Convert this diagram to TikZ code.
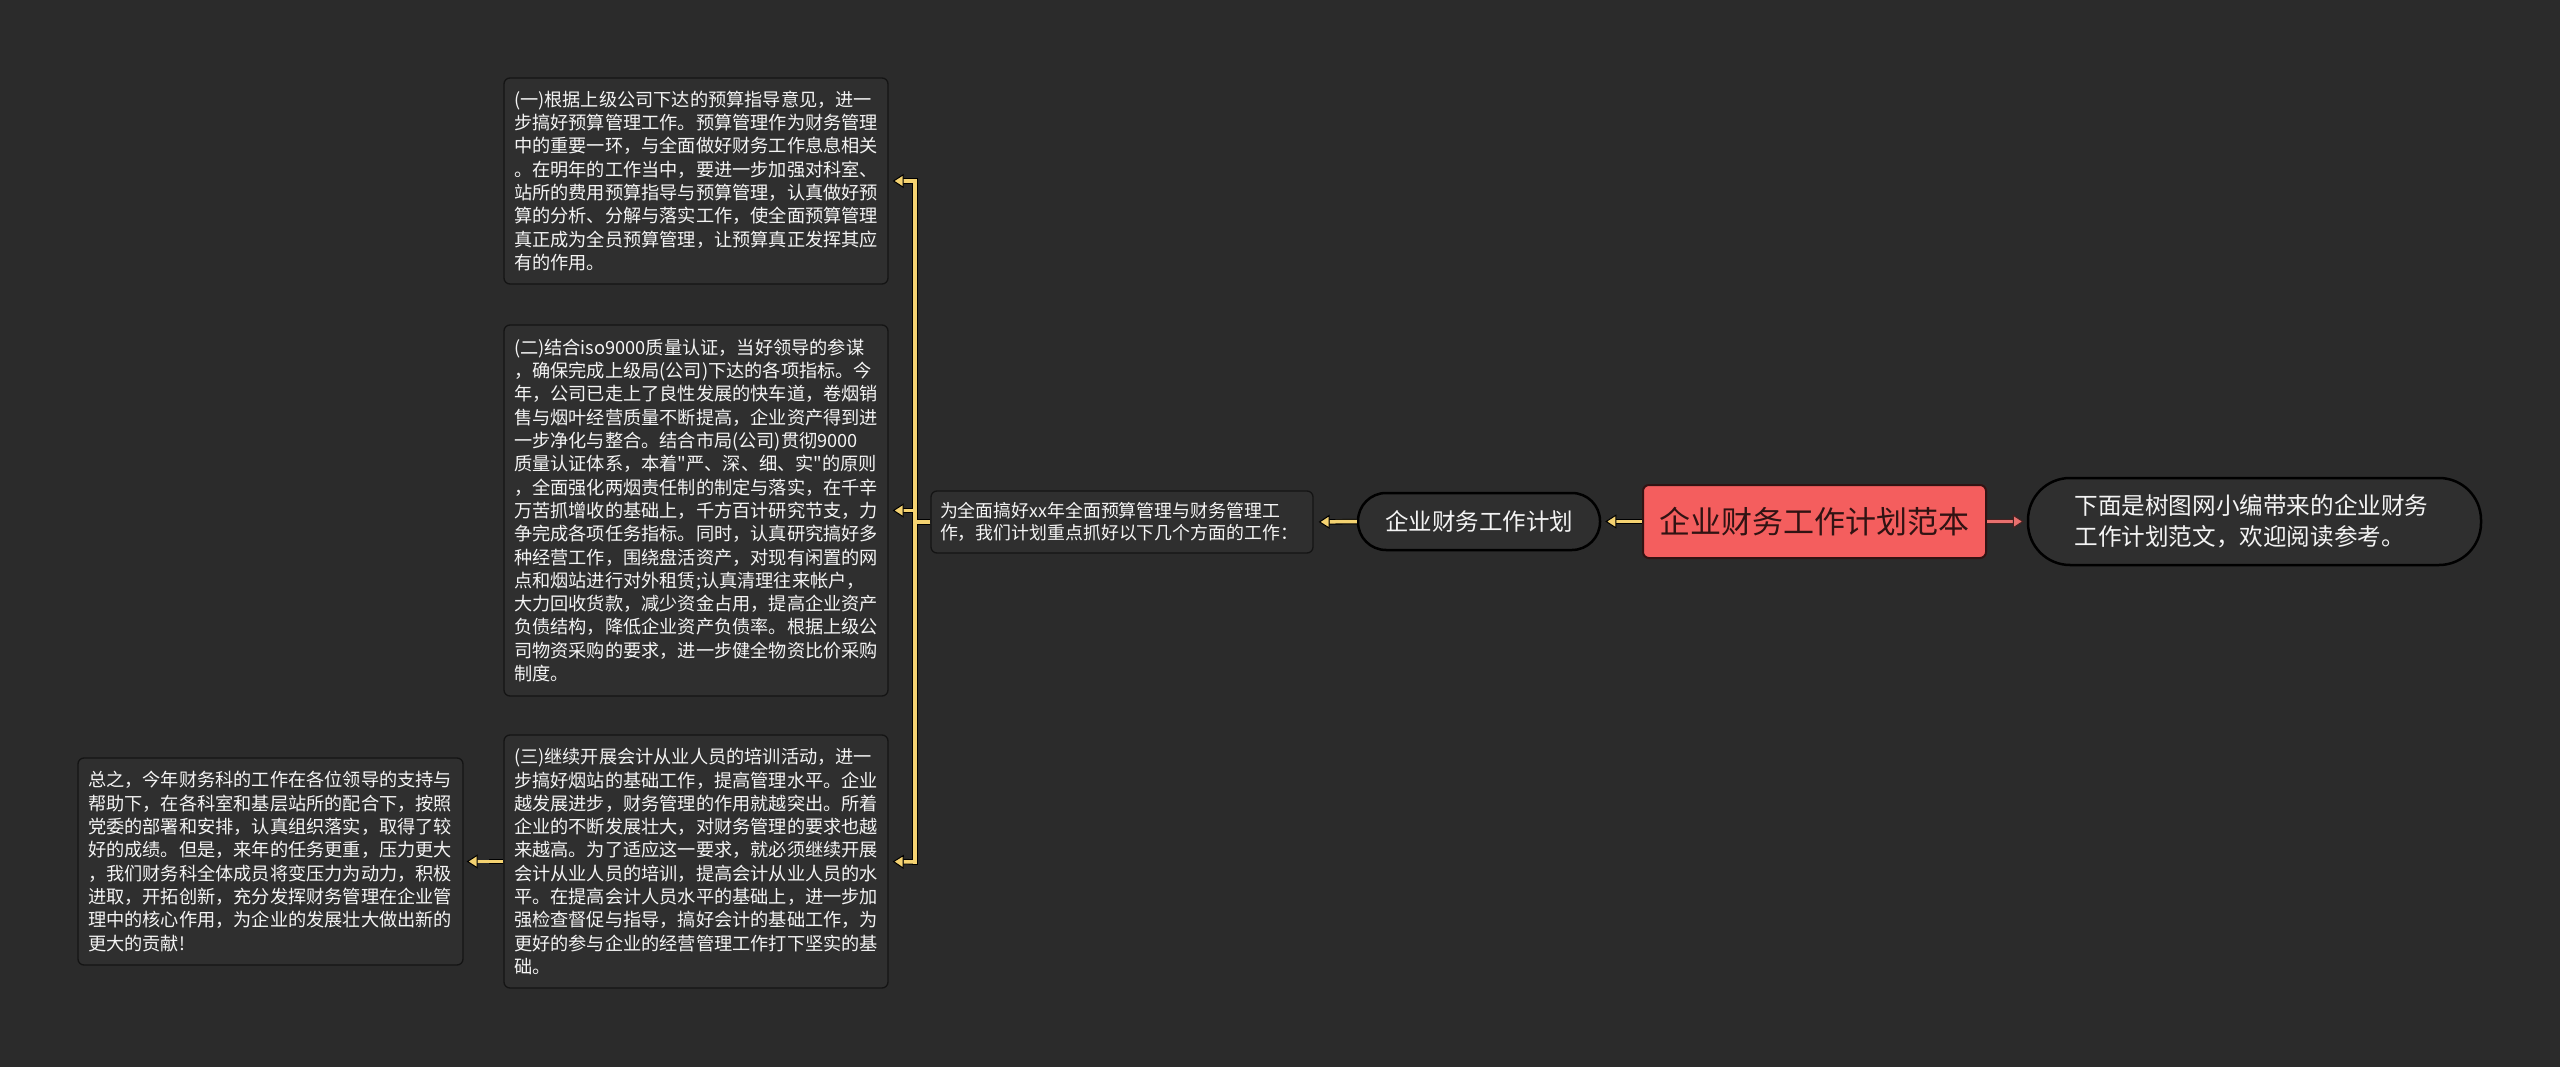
\documentclass[tikz,border=0pt]{standalone}
\usepackage{fontspec}
\newfontfamily\cjk{Noto Sans CJK SC}
\usetikzlibrary{arrows.meta}
\definecolor{bgc}{HTML}{2B2B2B}
\definecolor{boxc}{HTML}{2F2F2F}
\definecolor{edgec}{HTML}{141414}
\definecolor{ylw}{HTML}{F4D271}
\definecolor{redl}{HTML}{E8706E}
\definecolor{rootc}{HTML}{F45E5E}
\definecolor{txtc}{HTML}{F4F4F4}
\tikzset{
  txtbox/.style={draw=edgec, line width=1.3pt, fill=boxc, rounded corners=6pt,
    text=txtc, align=left, text width=364pt, inner xsep=10pt, inner ysep=4pt,
    font=\cjk\fontsize{18.2}{23.3}\selectfont},
  pill/.style={draw=black, line width=2.5pt, fill=boxc, rounded corners=28pt,
    text=txtc, inner sep=0pt},
  rootbox/.style={draw=black!80!rootc, line width=2pt, fill=rootc, rounded corners=6pt,
    text=black!80!rootc, inner sep=0pt, minimum width=343pt, minimum height=73pt,
    font=\cjk\fontsize{31}{36}\selectfont},
  under/.style={draw=black, line width=5.5pt},
  ylink/.style={draw=ylw, line width=3.5pt},
  yarr/.style={ylink, -{Triangle[length=11pt,width=14pt,color=black,fill=ylw,line width=1pt]}},
  rarr/.style={draw=redl, line width=3.5pt, -{Triangle[length=11pt,width=14pt,color=black!70!redl,fill=redl,line width=1pt]}},
}
\begin{document}
\begin{tikzpicture}[x=1pt,y=-1pt]
\fill[bgc] (0,0) rectangle (2560,1067);
\useasboundingbox (0,0) rectangle (2560,1067);

\node[rootbox] (root) at (1814.5,521.5) {企业财务工作计划范本};

\node[pill, rounded corners=42pt, minimum width=453pt, minimum height=87pt, text width=360pt, align=left,
  font=\cjk\fontsize{23.6}{31}\selectfont] (intro2) at (2254.5,521.5)
  {下面是树图网小编带来的企业财务\\工作计划范文，欢迎阅读参考。};

\node[pill, minimum width=242pt, minimum height=57pt,
  font=\cjk\fontsize{23.5}{28}\selectfont] (plan) at (1479,521.5) {企业财务工作计划};

\node[txtbox, minimum height=62pt, text width=364pt, inner xsep=9pt,
  font=\cjk\fontsize{17.9}{22.5}\selectfont] (intro) at (1122,522)
  {为全面搞好xx年全面预算管理与财务管理工\\作，我们计划重点抓好以下几个方面的工作：};

\node[txtbox, minimum height=206pt] (b1) at (696,181) {(一)根据上级公司下达的预算指导意见，进一\\
步搞好预算管理工作。预算管理作为财务管理\\
中的重要一环，与全面做好财务工作息息相关\\
。在明年的工作当中，要进一步加强对科室、\\
站所的费用预算指导与预算管理，认真做好预\\
算的分析、分解与落实工作，使全面预算管理\\
真正成为全员预算管理，让预算真正发挥其应\\
有的作用。};

\node[txtbox, minimum height=371pt] (b2) at (696,510.5) {(二)结合iso9000质量认证，当好领导的参谋\\
，确保完成上级局(公司)下达的各项指标。今\\
年，公司已走上了良性发展的快车道，卷烟销\\
售与烟叶经营质量不断提高，企业资产得到进\\
一步净化与整合。结合市局(公司)贯彻9000\\
质量认证体系，本着"严、深、细、实"的原则\\
，全面强化两烟责任制的制定与落实，在千辛\\
万苦抓增收的基础上，千方百计研究节支，力\\
争完成各项任务指标。同时，认真研究搞好多\\
种经营工作，围绕盘活资产，对现有闲置的网\\
点和烟站进行对外租赁;认真清理往来帐户，\\
大力回收货款，减少资金占用，提高企业资产\\
负债结构，降低企业资产负债率。根据上级公\\
司物资采购的要求，进一步健全物资比价采购\\
制度。};

\node[txtbox, minimum height=253pt] (b3) at (696,861.5) {(三)继续开展会计从业人员的培训活动，进一\\
步搞好烟站的基础工作，提高管理水平。企业\\
越发展进步，财务管理的作用就越突出。所着\\
企业的不断发展壮大，对财务管理的要求也越\\
来越高。为了适应这一要求，就必须继续开展\\
会计从业人员的培训，提高会计从业人员的水\\
平。在提高会计人员水平的基础上，进一步加\\
强检查督促与指导，搞好会计的基础工作，为\\
更好的参与企业的经营管理工作打下坚实的基\\
础。};

\node[txtbox, minimum height=207pt, text width=365pt] (b4) at (270.5,861.5) {总之，今年财务科的工作在各位领导的支持与\\
帮助下，在各科室和基层站所的配合下，按照\\
党委的部署和安排，认真组织落实，取得了较\\
好的成绩。但是，来年的任务更重，压力更大\\
，我们财务科全体成员将变压力为动力，积极\\
进取，开拓创新，充分发挥财务管理在企业管\\
理中的核心作用，为企业的发展壮大做出新的\\
更大的贡献!};

\coordinate (bus) at (915,522);
\coordinate (bustop) at (915,181);
\coordinate (busbot) at (915,862);

% underlayers (dark outline)
\draw[under] (root.west) -- ([xshift=12pt]plan.east);
\draw[under] (plan.west) -- ([xshift=14pt]intro.east);
\draw[under] (intro.west) -- (bus);
\draw[under, line cap=rect] (bustop) -- (busbot);
\draw[under] (bustop) -- ([xshift=14pt]b1.east);
\draw[under] (bus |- b2.east) -- ([xshift=14pt]b2.east);
\draw[under] (busbot) -- ([xshift=14pt]b3.east);
\draw[under] (b3.west) -- ([xshift=-14pt]b3.west);
\draw[draw=black!70!redl, line width=5.5pt] (root.east) -- ([xshift=-12pt]intro2.west);

% coloured connectors
\draw[yarr, shorten >=4pt] (root.west) -- (plan.east);
\draw[yarr, shorten >=5pt] (plan.west) -- (intro.east);
\draw[ylink] (intro.west) -- (bus);
\draw[ylink, line cap=rect] (bustop) -- (busbot);
\draw[yarr, shorten >=4pt] (bustop) -- (b1.east);
\draw[yarr, shorten >=4pt] (bus |- b2.east) -- (b2.east);
\draw[yarr, shorten >=4pt] (busbot) -- (b3.east);
\draw[yarr, shorten >=3pt] (b3.west) -- (b4.east);
\draw[rarr, shorten >=3pt] (root.east) -- (intro2.west);
\end{tikzpicture}
\end{document}
